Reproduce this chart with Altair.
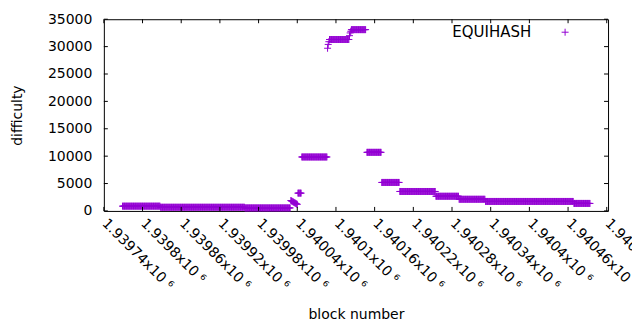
import altair as alt
import pandas as pd

# ---- data: constant-difficulty runs (block ranges, inclusive) ----
run_start = [1939769, 1939828, 1939959, 1940041, 1940047, 1940090, 1940124,
             1940148, 1940171, 1940199, 1940255, 1940291, 1940332, 1940469]
run_end = [1939827, 1939958, 1940029, 1940046, 1940086, 1940120, 1940146,
           1940170, 1940198, 1940254, 1940290, 1940331, 1940468, 1940494]
run_value = [870, 670, 550, 3250, 9850, 31300, 33100,
             10700, 5200, 3550, 2680, 2130, 1730, 1370]

# individual blocks around the transitions
single_block = [1940030, 1940031, 1940032, 1940033, 1940034, 1940035, 1940036,
                1940037, 1940038, 1940039, 1940040,
                1940087, 1940088, 1940089, 1940121, 1940122, 1940123]
single_value = [1900, 1830, 1760, 1690, 1620, 1550, 1480,
                1410, 1340, 1270, 1200,
                29700, 30400, 30900, 32000, 32500, 32800]

x_ticks = [1939740, 1939800, 1939860, 1939920, 1939980, 1940040, 1940100,
           1940160, 1940220, 1940280, 1940340, 1940400, 1940460, 1940520]
y_ticks = [0, 5000, 10000, 15000, 20000, 25000, 30000, 35000]

blocks, values = [], []
for s, e, v in zip(run_start, run_end, run_value):
    for b in range(s, e + 1):
        blocks.append(b)
        values.append(v)
blocks += single_block
values += single_value
df = pd.DataFrame({"block": blocks, "difficulty": values})

W, H = 505, 192
PURPLE = "#9400D3"
FONT = "DejaVu Sans"

xscale = alt.Scale(domain=[1939740, 1940522], nice=False, zero=False)
yscale = alt.Scale(domain=[0, 35000], nice=False)

x_axis = alt.Axis(values=x_ticks, ticks=False, domain=False, grid=False,
                  labelAngle=45, labelAlign="left", labelBaseline="middle",
                  labelPadding=10, labelFont=FONT, labelFontSize=14,
                  labelColor="black", labelOverlap=False, labelFlush=False,
                  labelBound=False,
                  labelExpr="format(datum.value/1e6, '.6~g') + 'x10 \u2076'",
                  titleFont=FONT, titleFontSize=14, titleFontWeight="normal",
                  titleColor="black", titleY=108, titleBaseline="alphabetic")
y_axis = alt.Axis(values=y_ticks, ticks=False, domain=False, grid=False,
                  format="d", labelOverlap=False,
                  labelPadding=12, labelFont=FONT, labelFontSize=14,
                  labelColor="black", labelFlush=False,
                  titleFont=FONT, titleFontSize=14, titleFontWeight="normal",
                  titleColor="black", titleX=-82, titleY=H / 2,
                  titleBaseline="alphabetic", titleAlign="center")

points = alt.Chart(df).mark_point(
    shape="M-1,0L1,0M0,-1L0,1", size=49, filled=False, strokeWidth=1,
    color=PURPLE, opacity=1
).encode(
    x=alt.X("block:Q", scale=xscale, title="block number", axis=x_axis),
    y=alt.Y("difficulty:Q", scale=yscale, title="difficulty", axis=y_axis),
)

xt = pd.DataFrame({"block": x_ticks})
yt = pd.DataFrame({"difficulty": y_ticks})
tick_style = dict(color="black", strokeWidth=1)
bottom_ticks = alt.Chart(xt).mark_rule(**tick_style).encode(
    x=alt.X("block:Q", scale=xscale, title="block number", axis=x_axis),
    y=alt.value(H), y2=alt.value(H - 4))
top_ticks = alt.Chart(xt).mark_rule(**tick_style).encode(
    x=alt.X("block:Q", scale=xscale, title="block number", axis=x_axis),
    y=alt.value(0), y2=alt.value(4))
left_ticks = alt.Chart(yt).mark_rule(**tick_style).encode(
    y=alt.Y("difficulty:Q", scale=yscale, title="difficulty", axis=y_axis),
    x=alt.value(0), x2=alt.value(4))
right_ticks = alt.Chart(yt).mark_rule(**tick_style).encode(
    y=alt.Y("difficulty:Q", scale=yscale, title="difficulty", axis=y_axis),
    x=alt.value(W), x2=alt.value(W - 4))

legend_df = pd.DataFrame({"label": ["EQUIHASH"]})
legend_text = alt.Chart(legend_df).mark_text(
    align="right", baseline="middle", font=FONT, fontSize=15, color="black"
).encode(text="label:N", x=alt.value(428), y=alt.value(13))
legend_mark = alt.Chart(legend_df).mark_point(
    shape="M-1,0L1,0M0,-1L0,1", size=49, filled=False, strokeWidth=1,
    color=PURPLE, opacity=1
).encode(x=alt.value(462), y=alt.value(13))

chart = alt.layer(
    points, bottom_ticks, top_ticks, left_ticks, right_ticks, legend_text, legend_mark
).properties(
    width=W, height=H,
    padding={"left": 96, "top": 11, "right": 24, "bottom": 111},
    autosize=alt.AutoSizeParams(type="none"),
).configure(
    background="white",
    view=alt.ViewConfig(stroke="black", strokeWidth=1),
)

chart.save("out.html", embed_options={"renderer": "svg", "actions": False})
